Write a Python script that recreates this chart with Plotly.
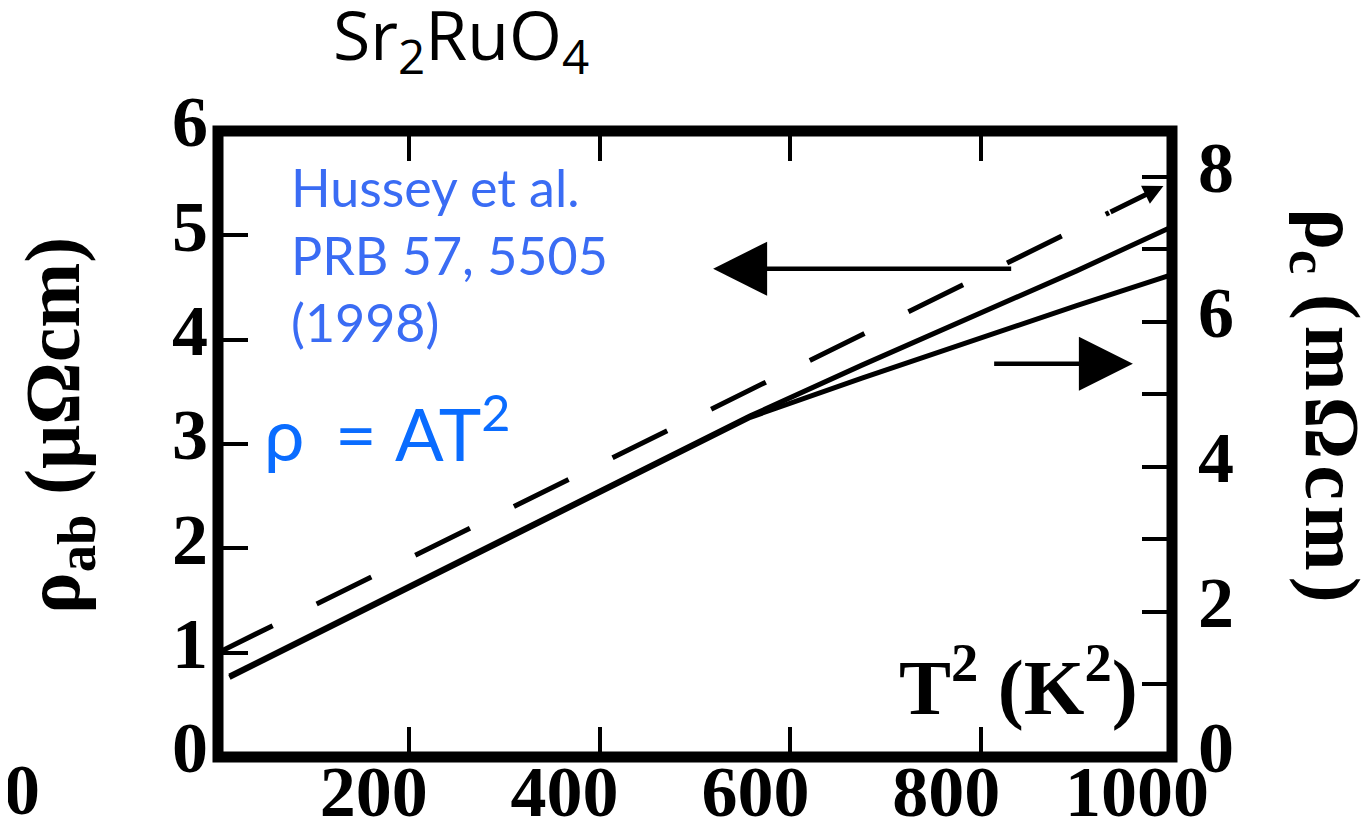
import plotly.graph_objects as go

# ---------------- data ----------------
# rho_ab (left axis, micro-Ohm cm) vs T^2 -- dashed line
T2_ab = [0, 934]
rho_ab = [1.00, 5.217]
# final dash segment carrying the small arrow head
T2_ab_tip = [934, 991]
rho_ab_tip = [5.217, 5.473]

# rho_c (right axis, milli-Ohm cm) vs T^2 -- two solid curves
T2_c = [12, 200, 380, 558, 675, 800, 900, 1000]
rho_c_1 = [1.11, 2.34, 3.53, 4.70, 5.40, 6.12, 6.70, 7.31]
rho_c_2 = [1.09, 2.32, 3.51, 4.68, 5.22, 5.78, 6.22, 6.65]

# pointer arrows (tail -> head), in left-axis units
arrow_left_T2 = [833, 519]
arrow_left_rho = [4.68, 4.68]
arrow_right_T2 = [812, 959]
arrow_right_rho = [3.77, 3.77]

x_tickvals = [200, 400, 600, 800, 1000]
x_ticktext = ["200", "400", "600", "800", "1000"]
y_tickvals = [0, 1, 2, 3, 4, 5, 6]
y_ticktext = ["0", "1", "2", "3", "4", "5", "6"]
y2_tickvals = [0, 1, 2, 3, 4, 5, 6, 7, 8]
y2_ticktext = ["0", "", "2", "", "4", "", "6", "", "8"]

SERIF = "Liberation Serif"
tickfont = dict(family=SERIF, size=72, color="black", weight="bold")
SP = "\u2006"
GAP = "<span style='font-size:24px'> </span>"  # narrow gap between scanned glyphs

fig = go.Figure()

fig.add_trace(go.Scatter(x=T2_ab, y=rho_ab, mode="lines",
                         line=dict(color="black", width=5, dash="61px,49px"),
                         showlegend=False, hoverinfo="skip"))
fig.add_trace(go.Scatter(x=T2_c, y=rho_c_1, mode="lines", yaxis="y2",
                         line=dict(color="black", width=5),
                         showlegend=False, hoverinfo="skip"))
fig.add_trace(go.Scatter(x=T2_c, y=rho_c_2, mode="lines", yaxis="y2",
                         line=dict(color="black", width=5),
                         showlegend=False, hoverinfo="skip"))

annotations = []
# small arrow at end of dashed line
annotations.append(dict(x=T2_ab_tip[1], y=rho_ab_tip[1], ax=T2_ab_tip[0], ay=rho_ab_tip[0],
                        xref="x", yref="y", axref="x", ayref="y", text="",
                        showarrow=True, arrowhead=2, arrowwidth=5, arrowsize=0.8,
                        arrowcolor="black", standoff=0, startstandoff=0))
# big pointer arrows
for tx, ty in [(arrow_left_T2, arrow_left_rho), (arrow_right_T2, arrow_right_rho)]:
    annotations.append(dict(x=tx[1], y=ty[1], ax=tx[0], ay=ty[0],
                            xref="x", yref="y", axref="x", ayref="y", text="",
                            showarrow=True, arrowhead=2, arrowwidth=4.5, arrowsize=2.4,
                            arrowcolor="black", standoff=0, startstandoff=0))

# axis titles
annotations.append(dict(text="ρ<sub>ab</sub> (μΩcm)", xref="paper", yref="paper",
                        x=-0.168, y=0.530, textangle=-90, showarrow=False,
                        xanchor="center", yanchor="middle",
                        font=dict(family=SERIF, size=78, color="black", weight="bold")))
right_title = "ρ<sub>c</sub> " + GAP.join(["(", "m", "Ω", "c", "m", ")"])
annotations.append(dict(text=right_title, xref="paper", yref="paper",
                        x=1.163, y=0.561, textangle=90, showarrow=False,
                        xanchor="center", yanchor="middle",
                        font=dict(family=SERIF, size=78, color="black", weight="bold")))
annotations.append(dict(text="T<sup>2</sup> (K<sup>2</sup>)", xref="paper", yref="paper",
                        x=0.839, y=0.121, showarrow=False, xanchor="center", yanchor="middle",
                        font=dict(family=SERIF, size=78, color="black", weight="bold")))
# stray x-axis zero label at far left
annotations.append(dict(text="0", xref="paper", yref="paper", x=-0.205, y=-0.053,
                        xanchor="center", yanchor="middle",
                        showarrow=False, font=tickfont))
# blue texts
annotations.append(dict(text="Hussey et al.<br>PRB 57, 5505<br>(1998)", xref="paper", yref="paper",
                        x=0.0739, y=0.963, xanchor="left", yanchor="top", align="left",
                        showarrow=False, font=dict(family="Lato", size=52, color="#3a6cf4")))
annotations.append(dict(text="ρ " + SP + "= AT<sup>2</sup>", xref="paper", yref="paper",
                        x=0.046, y=0.524, xanchor="left", yanchor="middle", align="left",
                        showarrow=False, font=dict(family="Lato", size=72, color="#0a6cff")))
# title
annotations.append(dict(text="Sr<sub>2</sub>RuO<sub>4</sub>", xref="paper", yref="paper",
                        x=0.2547, y=1.15, xanchor="center", yanchor="middle",
                        showarrow=False, font=dict(family="Open Sans", size=68, color="black")))

axis_common = dict(showline=False, ticks="inside",
                   ticklen=30, tickwidth=4, tickcolor="black", showgrid=False,
                   zeroline=False, tickfont=tickfont, automargin=False)

fig.update_layout(
    width=1369, height=833,
    # the page body adds an 8 px offset; margins compensate for it
    margin=dict(l=210, r=205, t=123, b=84, autoexpand=False),
    plot_bgcolor="white", paper_bgcolor="white",
    xaxis=dict(range=[0, 1000], tickvals=x_tickvals, ticktext=x_ticktext,
               mirror="ticks", ticklabelshift=-35, ticklabelstandoff=-14, **axis_common),
    yaxis=dict(range=[0, 6], tickvals=y_tickvals, ticktext=y_ticktext,
               ticklabelshift=-10, ticklabelstandoff=9, **axis_common),
    yaxis2=dict(range=[-0.007, 8.63], tickvals=y2_tickvals, ticktext=y2_ticktext,
                overlaying="y", side="right", ticklabelshift=-10, ticklabelstandoff=25,
                **axis_common),
    shapes=[dict(type="rect", xref="paper", yref="paper", x0=0, x1=1, y0=0, y1=1,
                 line=dict(color="black", width=11), fillcolor="rgba(0,0,0,0)", layer="above")],
    annotations=annotations,
    showlegend=False,
)

fig.write_html("out.html")
